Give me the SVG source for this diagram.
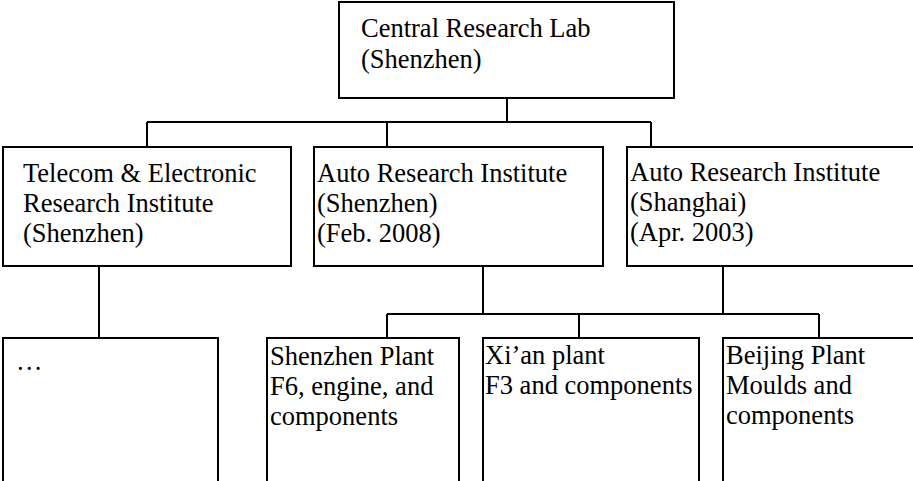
<svg xmlns="http://www.w3.org/2000/svg" width="913" height="481" viewBox="0 0 913 481">
<style>
.box{fill:#fff;stroke:#000;stroke-width:2}
.c{fill:none;stroke:#000;stroke-width:2}
text{font-family:"Liberation Serif","Times New Roman",serif;font-size:26.5px;fill:#000}
</style>
<rect width="913" height="481" fill="#fff"/>
<g id="connectors">
<path class="c" d="M507 98V122M147 122H651M147 122V147M387 122V147M651 122V147"/>
<path class="c" d="M99 266V338M483 266V314M723 266V314M387 314H819M387 314V338M579 314V338M819 314V338"/>
</g>
<g id="central">
<rect class="box" x="339" y="2" width="335" height="96"/>
<text x="361" y="37">Central Research Lab</text>
<text x="361" y="68">(Shenzhen)</text>
</g>
<g id="telecom">
<rect class="box" x="3" y="147" width="288" height="119"/>
<text x="23" y="182">Telecom &amp; Electronic</text>
<text x="23" y="212">Research Institute</text>
<text x="23" y="242">(Shenzhen)</text>
</g>
<g id="auto-shenzhen">
<rect class="box" x="314" y="147" width="289" height="119"/>
<text x="317" y="182">Auto Research Institute</text>
<text x="317" y="212">(Shenzhen)</text>
<text x="317" y="242">(Feb. 2008)</text>
</g>
<g id="auto-shanghai">
<rect class="box" x="627" y="147" width="300" height="119"/>
<text x="630" y="181">Auto Research Institute</text>
<text x="630" y="211">(Shanghai)</text>
<text x="630" y="241">(Apr. 2003)</text>
</g>
<g id="telecom-child">
<rect class="box" x="3" y="338" width="215" height="160"/>
<text x="16" y="370">…</text>
</g>
<g id="shenzhen-plant">
<rect class="box" x="267" y="338" width="192" height="160"/>
<text x="270" y="365">Shenzhen Plant</text>
<text x="270" y="395">F6, engine, and</text>
<text x="270" y="425">components</text>
</g>
<g id="xian-plant">
<rect class="box" x="483" y="338" width="216" height="160"/>
<text x="485" y="364">Xi’an plant</text>
<text x="485" y="394">F3 and components</text>
</g>
<g id="beijing-plant">
<rect class="box" x="723" y="338" width="220" height="160"/>
<text x="726" y="364">Beijing Plant</text>
<text x="726" y="394">Moulds and</text>
<text x="726" y="424">components</text>
</g>
</svg>
